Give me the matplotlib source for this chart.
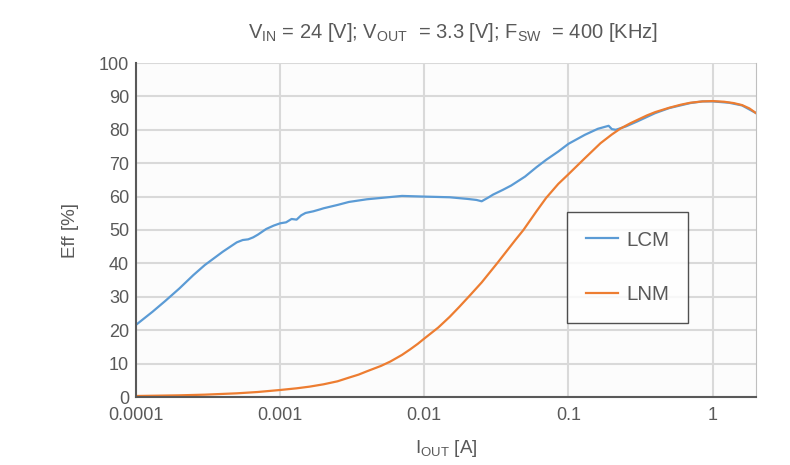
import matplotlib
matplotlib.use("Agg")
import matplotlib.pyplot as plt

plt.rcParams['font.family'] = ['Liberation Sans', 'DejaVu Sans']
plt.rcParams['mathtext.fontset'] = 'custom'
plt.rcParams['mathtext.rm'] = 'Liberation Sans'
plt.rcParams['mathtext.it'] = 'Liberation Sans'

# LCM curve
lcmX = [0.0001, 0.00013, 0.00016, 0.0002, 0.00025, 0.0003, 0.0004, 0.0005, 0.00055,
        0.0006, 0.00065, 0.0007, 0.0008, 0.0009, 0.001, 0.0011, 0.0012, 0.0013,
        0.0014, 0.0015, 0.0017, 0.0019, 0.002, 0.0025, 0.003, 0.004,
        0.005, 0.007, 0.01, 0.015, 0.02, 0.023, 0.025, 0.028, 0.03, 0.035, 0.04, 0.05,
        0.06, 0.07, 0.085, 0.1, 0.13, 0.16, 0.19, 0.2, 0.213, 0.25, 0.3, 0.4, 0.5, 0.7,
        0.85, 1.0, 1.3, 1.6, 2.0]
lcmY = [21.6, 25.5, 28.8, 32.5, 36.5, 39.5, 43.5, 46.3, 47.0,
        47.2, 47.8, 48.6, 50.3, 51.3, 52, 52.3, 53.3, 53.1,
        54.4, 55.1, 55.6, 56.2, 56.5, 57.5, 58.4, 59.2,
        59.6, 60.2, 60, 59.8, 59.3, 59.0, 58.6, 59.8, 60.6, 62, 63.3, 66,
        68.8, 71, 73.5, 75.8, 78.5, 80.3, 81.2, 80.2, 80, 81, 82.5, 85, 86.5, 88,
        88.5, 88.5, 88.1, 87.3, 85]

# LNM curve
lnmX = [0.0001, 0.0002, 0.0003, 0.0005, 0.0007, 0.001, 0.0013, 0.0016, 0.002, 0.0025,
        0.003, 0.0035, 0.004, 0.005, 0.0058, 0.007, 0.008, 0.009, 0.01, 0.0125, 0.015,
        0.0175, 0.0208, 0.025, 0.0321, 0.0428, 0.0487, 0.06, 0.07, 0.085, 0.1, 0.13,
        0.167, 0.2, 0.23, 0.27, 0.35, 0.4, 0.5, 0.6, 0.7, 0.85, 1.0, 1.2, 1.4, 1.6,
        1.8, 2.0]
lnmY = [0.3, 0.5, 0.7, 1.1, 1.5, 2.1, 2.6, 3.1, 3.8, 4.7,
        5.8, 6.7, 7.7, 9.3, 10.6, 12.6, 14.3, 15.9, 17.5, 20.8, 24.0,
        27.0, 30.5, 34.3, 40.1, 47.0, 50.0, 55.6, 59.6, 63.8, 66.7, 71.5,
        76.0, 78.6, 80.4, 82.0, 84.3, 85.3, 86.6, 87.5, 88.1, 88.5, 88.6, 88.4, 88.0, 87.4,
        86.4, 85]

fig = plt.figure(figsize=(7.9, 4.65), dpi=100)
ax = fig.add_axes([136 / 790, 68 / 465, 620 / 790, 334 / 465])
ax.set_facecolor('#fcfcfc')

ax.plot(lcmX, lcmY, color='#5b9bd5', lw=1.6, label='LCM')
ax.plot(lnmX, lnmY, color='#ed7d31', lw=1.6, label='LNM')

ax.set_xscale('log')
ax.set_xlim(0.0001, 2)
ax.set_ylim(0, 100)
ax.set_yticks(range(0, 101, 10))
ax.set_xticks([0.0001, 0.001, 0.01, 0.1, 1])
ax.set_xticklabels(['0.0001', '0.001', '0.01', '0.1', '1'])
ax.minorticks_off()
ax.grid(True, color='#d9d9d9', lw=1.5)
ax.set_axisbelow(True)
ax.tick_params(length=0, labelsize=13, colors='#595959')
ax.tick_params(axis='x', pad=7)
ax.tick_params(axis='y', pad=5)

ax.spines['top'].set_visible(False)
ax.spines['left'].set_color('#595959')
ax.spines['bottom'].set_color('#595959')
ax.spines['right'].set_color('#bfbfbf')
ax.spines['left'].set_linewidth(1.5)
ax.spines['bottom'].set_linewidth(1.5)

ax.set_xlabel(r'I$_{\mathrm{OUT}}$ [A]', fontsize=13.5, color='#595959', labelpad=10)
ax.set_ylabel('Eff [%]', fontsize=13.5, color='#595959', labelpad=14)
fig.text(453 / 790, 1 - 32 / 465,
         r'V$_{\mathrm{IN}}$ = 24 [V]; V$_{\mathrm{OUT}}$  = 3.3 [V]; F$_{\mathrm{SW}}$  = 400 [KHz]',
         ha='center', va='center', fontsize=14.5, color='#595959')

leg = ax.legend(loc='upper left', bbox_to_anchor=((567 - 136) / 620, 1 - (212 - 63) / 334),
                frameon=True, fancybox=False, edgecolor='#262626', fontsize=14.8,
                labelspacing=1.75, handlelength=1.6, handletextpad=0.4,
                borderpad=0.9, borderaxespad=0, labelcolor='#595959')
leg.get_frame().set_linewidth(1.0)
leg.get_frame().set_facecolor('white')

fig.savefig('out.png', dpi=100, facecolor='white')
